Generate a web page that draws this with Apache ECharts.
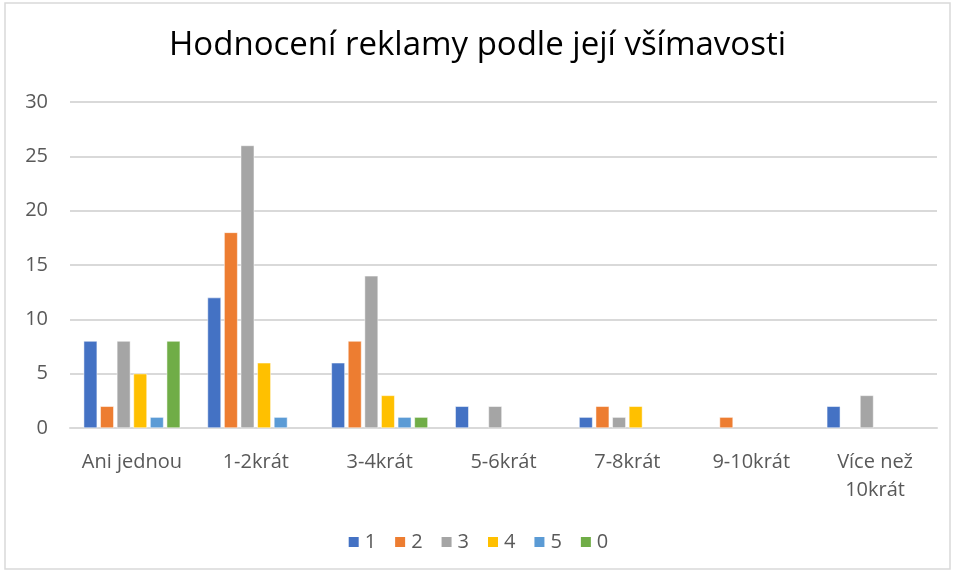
<!DOCTYPE html>
<html>
<head>
<meta charset="utf-8">
<script src="https://cdn.jsdelivr.net/npm/echarts@6/dist/echarts.min.js"></script>
<style>
  html, body { margin: 0; padding: 0; background: #fff; }
  #chart { width: 955px; height: 573px; }
</style>
</head>
<body>
<div id="chart"></div>
<script>
// kategorie a hodnoty (null = bez sloupce)
const categories = ['Ani jednou', '1-2krát', '3-4krát', '5-6krát', '7-8krát', '9-10krát', 'Více než\n10krát'];
const seriesNames = ['1', '2', '3', '4', '5', '0'];
const s1 = [8, 12, 6, 2, 1, null, 2];
const s2 = [2, 18, 8, null, 2, 1, null];
const s3 = [8, 26, 14, 2, 1, null, 3];
const s4 = [5, 6, 3, null, 2, null, null];
const s5 = [1, 1, 1, null, null, null, null];
const s0 = [8, null, 1, null, null, null, null];
const colors = ['#4472C4', '#ED7D31', '#A5A5A5', '#FFC000', '#5B9BD5', '#70AD47'];

const font = '"Open Sans", "Liberation Sans", sans-serif';
const allData = [s1, s2, s3, s4, s5, s0];

let myChart = echarts.init(document.getElementById('chart'));
myChart.setOption({
  color: colors,
  textStyle: { fontFamily: font },
  title: {
    text: 'Hodnocení reklamy podle její všímavosti',
    left: 'center',
    top: 24,
    textStyle: { fontFamily: font, fontSize: 33, fontWeight: 'normal', color: '#000' }
  },
  graphic: [{
    type: 'rect',
    shape: { x: 5, y: 3, width: 945, height: 566 },
    style: { fill: 'none', stroke: '#d9d9d9', lineWidth: 1.5 },
    silent: true
  }],
  legend: {
    bottom: 16,
    left: 'center',
    itemWidth: 12,
    itemHeight: 12,
    itemGap: 17,
    icon: 'rect',
    textStyle: { fontSize: 20, color: '#595959', fontFamily: font },
    data: seriesNames
  },
  grid: {
    left: 70,
    right: 18,
    top: 102,
    bottom: 145
  },
  xAxis: {
    type: 'category',
    data: categories,
    axisTick: { show: false },
    axisLine: { lineStyle: { color: '#d9d9d9', width: 2 } },
    axisLabel: { color: '#595959', fontSize: 20, margin: 20, lineHeight: 28, interval: 0, fontFamily: font }
  },
  yAxis: {
    type: 'value',
    min: 0,
    max: 30,
    interval: 5,
    axisLine: { show: false },
    axisTick: { show: false },
    axisLabel: { color: '#595959', fontSize: 20, margin: 22, fontFamily: font },
    splitLine: { lineStyle: { color: '#d9d9d9', width: 2 } }
  },
  series: seriesNames.map((name, i) => ({
    name: name,
    type: 'bar',
    data: allData[i],
    barWidth: 13.5,
    barGap: '23%',
    itemStyle: { borderColor: '#fff', borderWidth: 0.5 }
  }))
});
</script>
</body>
</html>
